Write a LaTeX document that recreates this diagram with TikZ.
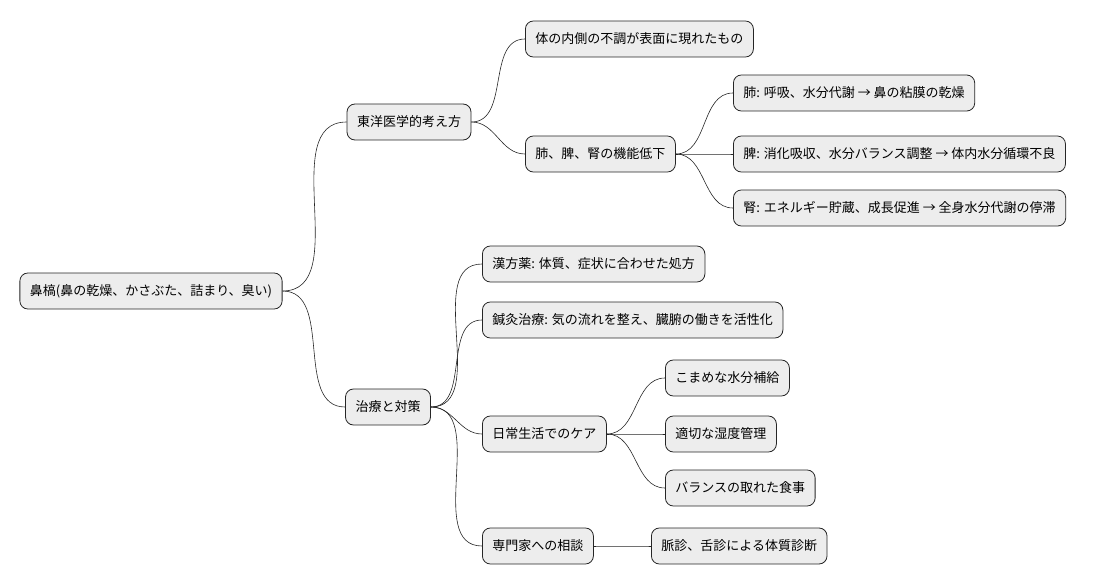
\documentclass[tikz,border=0pt]{standalone}
\usepackage{fontspec}
\setmainfont{Noto Sans CJK JP}
\usetikzlibrary{positioning}

\begin{document}
\begin{tikzpicture}[
  x=1pt, y=-1pt,
  topic/.style={draw=black!85, fill=black!7, rounded corners=8pt, line width=0.8pt,
    minimum height=36pt, inner xsep=10pt, font=\fontsize{13}{15}\selectfont},
  branch/.style={line width=0.6pt, black!85}
]
\useasboundingbox (0,0) rectangle (1103,583);

% Nodes
\node[topic] (root) at (151,291) {鼻槁(鼻の乾燥、かさぶた、詰まり、臭い)};
\node[topic] (east) at (409,122) {東洋医学的考え方};
\node[topic] (cure) at (388,407) {治療と対策};

\node[topic, anchor=west] (inner) at (525,39) {体の内側の不調が表面に現れたもの};
\node[topic, anchor=west] (organ) at (525,154) {肺、脾、腎の機能低下};
\node[topic, anchor=west] (lung) at (733,93) {肺: 呼吸、水分代謝 → 鼻の粘膜の乾燥};
\node[topic, anchor=west] (spleen) at (733,154) {脾: 消化吸収、水分バランス調整 → 体内水分循環不良};
\node[topic, anchor=west] (kidney) at (733,208) {腎: エネルギー貯蔵、成長促進 → 全身水分代謝の停滞};

\node[topic, anchor=west] (herb) at (482,264) {漢方薬: 体質、症状に合わせた処方};
\node[topic, anchor=west] (acu) at (482,320) {鍼灸治療: 気の流れを整え、臓腑の働きを活性化};
\node[topic, anchor=west] (daily) at (482,434) {日常生活でのケア};
\node[topic, anchor=west] (water) at (665,378) {こまめな水分補給};
\node[topic, anchor=west] (humid) at (665,434) {適切な湿度管理};
\node[topic, anchor=west] (meal) at (665,488) {バランスの取れた食事};
\node[topic, anchor=west] (expert) at (482,546) {専門家への相談};
\node[topic, anchor=west] (pulse) at (651,546) {脈診、舌診による体質診断};

% Branches
\foreach \a/\b in {root/east, root/cure, east/inner, east/organ,
  organ/lung, organ/spleen, organ/kidney, cure/herb, cure/acu, cure/daily,
  cure/expert, daily/water, daily/humid, daily/meal, expert/pulse}
  \draw[branch] (\a.east) to[out=0, in=180] (\b.west);

\end{tikzpicture}
\end{document}
